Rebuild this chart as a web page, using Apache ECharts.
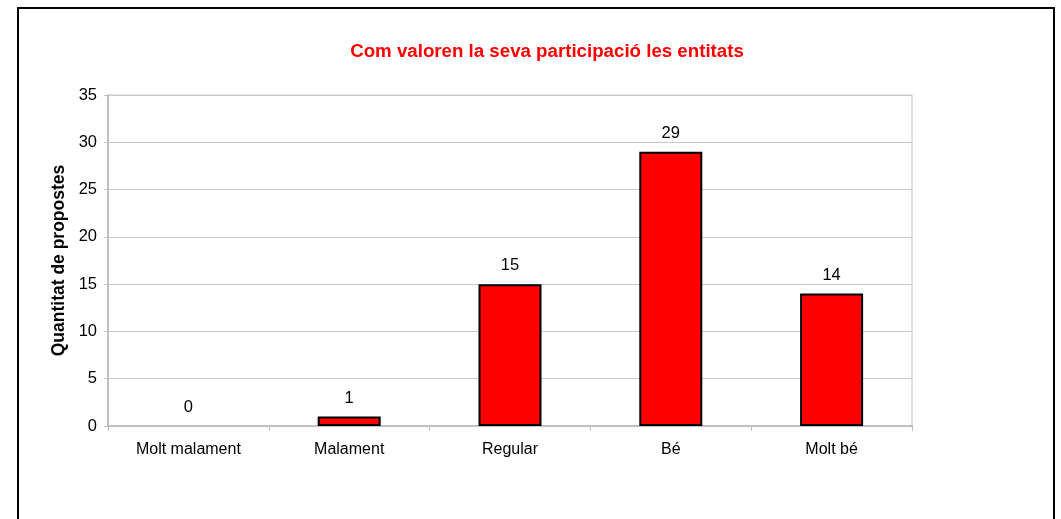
<!DOCTYPE html>
<html>
<head>
<meta charset="utf-8">
<script src="https://cdn.jsdelivr.net/npm/echarts@6/dist/echarts.min.js"></script>
<style>
  html, body { margin: 0; padding: 0; background: #fff; }
  #chart { width: 1061px; height: 519px; }
</style>
</head>
<body>
<div id="chart"></div>
<script>
const categories = ["Molt malament", "Malament", "Regular", "Bé", "Molt bé"];
const values = [0, 1, 15, 29, 14];

const myChart = echarts.init(document.getElementById("chart"));
myChart.setOption({
  animation: false,
  textStyle: { fontFamily: "Liberation Sans, Arial, sans-serif" },
  graphic: [
    {
      type: "rect",
      shape: { x: 18, y: 8, width: 1036, height: 530 },
      style: { fill: "none", stroke: "#000", lineWidth: 2 },
    },
  ],
  title: {
    text: "Com valoren la seva participació les entitats",
    left: 542,
    top: 37,
    textAlign: "center",
    textStyle: { color: "#ff0000", fontSize: 18.7, fontWeight: "bold" },
  },
  grid: {
    left: 108,
    right: 149,
    top: 95,
    bottom: 93,
    show: true,
    borderColor: "#c0c0c0",
    borderWidth: 1,
  },
  xAxis: {
    type: "category",
    data: categories,
    axisLine: { lineStyle: { color: "#c0c0c0", width: 2 } },
    axisTick: { show: true, length: 5, lineStyle: { color: "#c0c0c0" } },
    axisLabel: { color: "#000", fontSize: 16, margin: 16 },
  },
  yAxis: {
    type: "value",
    min: 0,
    max: 35,
    interval: 5,
    name: "Quantitat de propostes",
    nameLocation: "middle",
    nameGap: 39,
    nameTextStyle: { color: "#000", fontSize: 17.5, fontWeight: "bold" },
    axisLine: { show: true, lineStyle: { color: "#c0c0c0", width: 2 } },
    axisTick: { show: true, length: 4, lineStyle: { color: "#c0c0c0" } },
    axisLabel: { color: "#000", fontSize: 16.5, margin: 11 },
    splitLine: { lineStyle: { color: "#c8c8c8" } },
  },
  series: [
    {
      type: "bar",
      data: values.map((v) => (v === 0 ? { value: v, itemStyle: { borderWidth: 0 } } : v)),
      barWidth: 63,
      itemStyle: { color: "#ff0000", borderColor: "#000", borderWidth: 2 },
      label: {
        show: true,
        position: "top",
        distance: 10,
        color: "#000",
        fontSize: 16.5,
      },
    },
  ],
});
</script>
</body>
</html>
